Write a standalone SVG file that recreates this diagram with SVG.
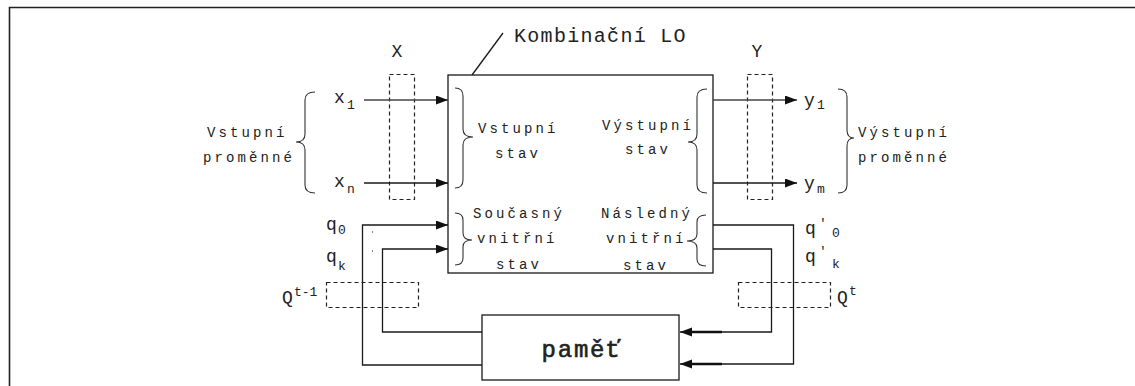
<svg xmlns="http://www.w3.org/2000/svg" width="1135" height="386" viewBox="0 0 1135 386">
  <style>
    .ln { fill: none; stroke: #1a1a1a; stroke-width: 1.3; }
    .gl { fill: none; stroke: #444; stroke-width: 1.4; }
    .dash { fill: none; stroke: #222; stroke-width: 1.2; stroke-dasharray: 4 3; }
    .br { fill: none; stroke: #333; stroke-width: 1.1; }
    .box { fill: #fff; stroke: #1a1a1a; stroke-width: 1.3; }
    text { font-family: "Courier New", "Liberation Mono", monospace; fill: #222; }
    .lbl { font-size: 14px; letter-spacing: 3.1px; }
    .big { font-size: 20px; letter-spacing: 1.3px; }
    .var { font-size: 18px; }
    .sub { font-size: 13px; }
    .mem { font-size: 24px; letter-spacing: 1.8px; stroke: #222; stroke-width: 0.6px; }
  </style>
  <defs>
    <marker id="ah" markerUnits="userSpaceOnUse" markerWidth="13" markerHeight="10" refX="12" refY="4.5" orient="auto">
      <path d="M0,0 L12,4.5 L0,9 Z" fill="#111"/>
    </marker>
  </defs>

  <rect width="1135" height="386" fill="#fff"/>
  <!-- outer frame -->
  <path d="M9.5,386 V7.5 H1135" fill="none" stroke="#222" stroke-width="1.6"/>

  <!-- combinational logic block -->
  <g id="kombinacni-lo">
    <rect class="box" x="448" y="75" width="265" height="198"/>
    <line class="ln" x1="472" y1="75" x2="503" y2="33" stroke-width="1"/>
    <text class="big" x="514" y="42">Kombinační LO</text>
    <!-- input state -->
    <path class="br" d="M455,88 Q463,88 463,96 L463,129 Q463,137 473,137 Q463,137 463,145 L463,180 Q463,188 455,188"/>
    <text class="lbl" x="478" y="133">Vstupní</text>
    <text class="lbl" x="495" y="158">stav</text>
    <!-- output state -->
    <path class="br" d="M707,89 Q697,89 697,97 L697,134 Q697,142 688,142 Q697,142 697,150 L697,185 Q697,193 707,193"/>
    <text class="lbl" x="602" y="130">Výstupní</text>
    <text class="lbl" x="625" y="154">stav</text>
    <!-- present internal state -->
    <path class="br" d="M455,213 Q463,213 463,220 L463,233 Q463,240 472,240 Q463,240 463,247 L463,258 Q463,265 455,265"/>
    <text class="lbl" x="473" y="218">Současný</text>
    <text class="lbl" x="477" y="243">vnitřní</text>
    <text class="lbl" x="496" y="269">stav</text>
    <!-- next internal state -->
    <path class="br" d="M706,215 Q697,215 697,222 L697,234 Q697,241 687,241 Q697,241 697,248 L697,259 Q697,266 706,266"/>
    <text class="lbl" x="601" y="218">Následný</text>
    <text class="lbl" x="606" y="243">vnitřní</text>
    <text class="lbl" x="623" y="270">stav</text>
  </g>

  <!-- memory block -->
  <g id="pamet">
    <rect class="box" x="482" y="315" width="197" height="65"/>
    <text class="mem" x="582" y="357" text-anchor="middle">paměť</text>
  </g>

  <!-- input variables -->
  <g id="vstupni-promenne">
    <path class="br" d="M315,92 Q305,92 305,100 L305,134 Q305,142 296,142 Q305,142 305,150 L305,185 Q305,193 315,193"/>
    <text class="lbl" x="207" y="137">Vstupní</text>
    <text class="lbl" x="203" y="162">proměnné</text>
    <text class="var" x="334" y="103">x</text><text class="sub" x="347" y="109">1</text>
    <text class="var" x="334" y="187">x</text><text class="sub" x="347" y="193">n</text>
  </g>

  <!-- output variables -->
  <g id="vystupni-promenne">
    <path class="br" d="M838,89 Q847,89 847,97 L847,130 Q847,138 854,138 Q847,138 847,146 L847,185 Q847,193 838,193"/>
    <text class="lbl" x="858" y="137">Výstupní</text>
    <text class="lbl" x="858" y="162">proměnné</text>
    <text class="var" x="804" y="106">y</text><text class="sub" x="817" y="109">1</text>
    <text class="var" x="804" y="189">y</text><text class="sub" x="817" y="193">m</text>
  </g>

  <!-- input / output vectors X and Y -->
  <g id="vektor-x">
    <rect class="dash" x="389.5" y="74.5" width="25" height="125"/>
    <text class="var" x="397" y="57" text-anchor="middle">X</text>
  </g>
  <g id="vektor-y">
    <rect class="dash" x="747.5" y="74.5" width="25" height="125"/>
    <text class="var" x="757" y="57" text-anchor="middle">Y</text>
  </g>

  <!-- state registers Q(t-1) and Q(t) -->
  <g id="stav-q-t-1">
    <rect class="dash" x="326.5" y="282.5" width="92" height="25"/>
    <text class="var" x="282" y="303">Q</text><text class="sub" x="294" y="296">t-1</text>
  </g>
  <g id="stav-q-t">
    <rect class="dash" x="738.5" y="282.5" width="92" height="25"/>
    <text class="var" x="837" y="303">Q</text><text class="sub" x="849" y="295">t</text>
  </g>

  <!-- state variable labels -->
  <g id="q-labels">
    <text class="var" x="326" y="230">q</text><text class="sub" x="338" y="234">0</text>
    <text class="var" x="326" y="262">q</text><text class="sub" x="338" y="270">k</text>
    <line x1="372.5" y1="231" x2="372.5" y2="233" stroke="#888" stroke-width="1"/>
    <line x1="372.5" y1="250" x2="372.5" y2="252" stroke="#888" stroke-width="1"/>
    <text class="var" x="805" y="234">q</text><text class="sub" x="819" y="227">'</text><text class="sub" x="832" y="237">0</text>
    <text class="var" x="805" y="262">q</text><text class="sub" x="819" y="255">'</text><text class="sub" x="832" y="268">k</text>
  </g>

  <!-- connectors -->
  <g id="connectors">
    <line class="gl" x1="364" y1="100" x2="448" y2="100" marker-end="url(#ah)"/>
    <line class="ln" x1="364" y1="183" x2="448" y2="183" marker-end="url(#ah)"/>
    <line class="gl" x1="713" y1="100" x2="797" y2="100" marker-end="url(#ah)"/>
    <line class="ln" x1="713" y1="183" x2="797" y2="183" marker-end="url(#ah)"/>
    <!-- feedback: memory to present state -->
    <path class="ln" d="M482,365 H362.5 V225 H448" marker-end="url(#ah)"/>
    <path class="ln" d="M482,332 H382.5 V249 H448" marker-end="url(#ah)"/>
    <!-- next state to memory -->
    <path class="ln" d="M713,225 H793.5 V364 H680" marker-end="url(#ah)"/>
    <path class="ln" d="M713,249 H771.5 V332 H680" marker-end="url(#ah)"/>
    <line x1="688" y1="364" x2="722" y2="364" stroke="#111" stroke-width="2.4"/>
    <line x1="688" y1="332" x2="722" y2="332" stroke="#111" stroke-width="2.4"/>
  </g>
</svg>
